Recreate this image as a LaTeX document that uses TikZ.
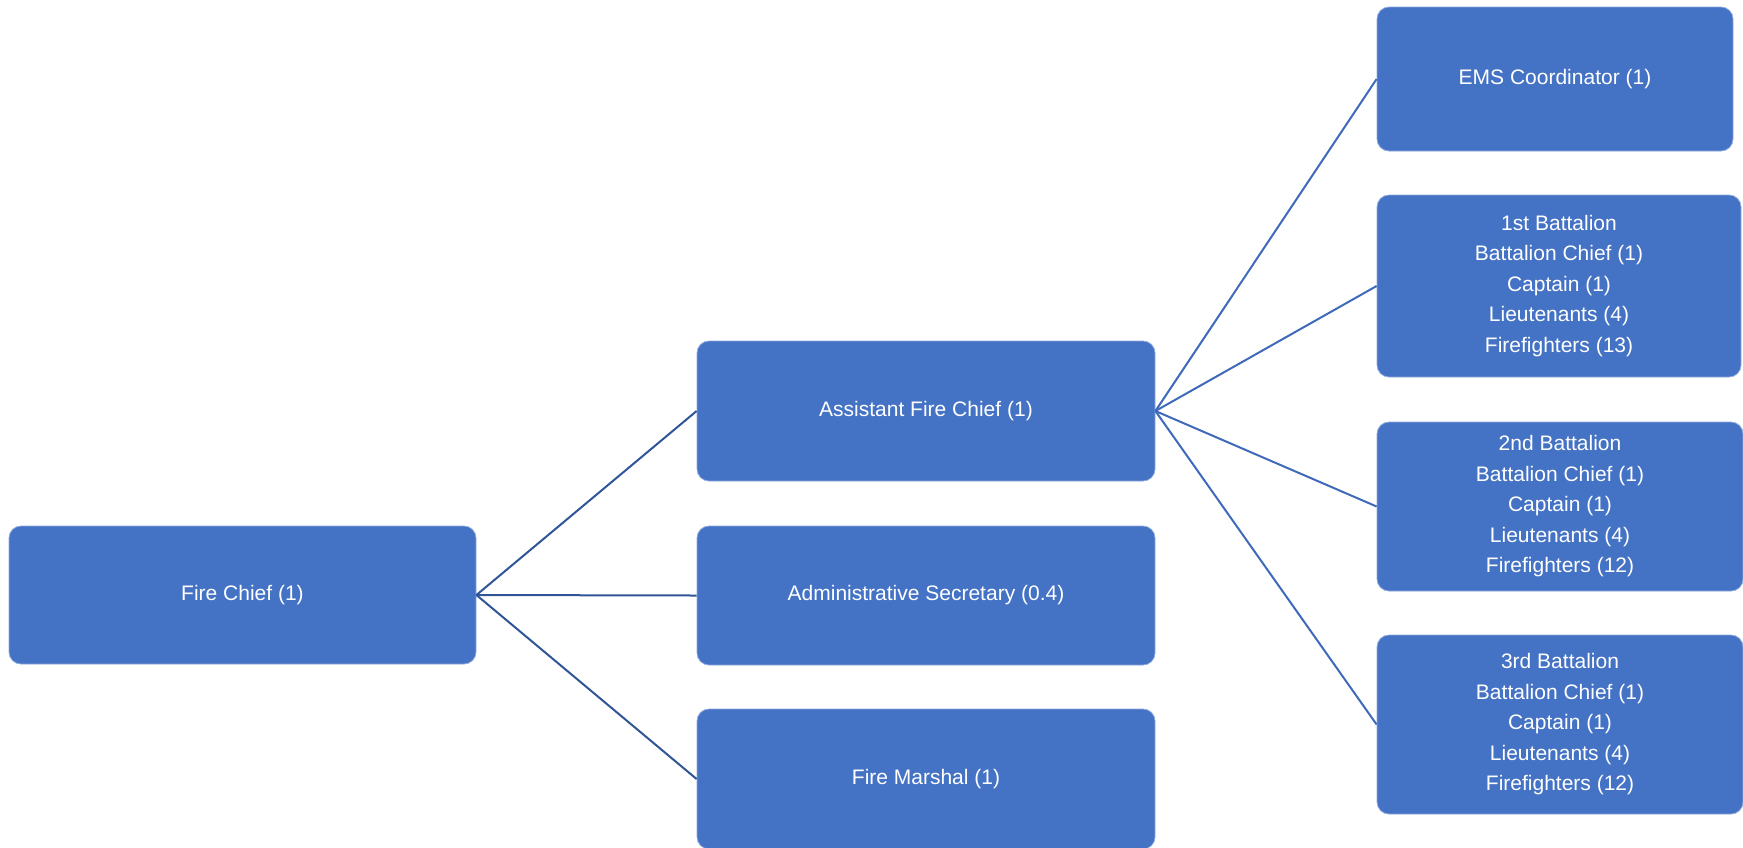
\documentclass[tikz,border=0pt]{standalone}
\usepackage{fontspec}
\setmainfont{Liberation Sans}
\usetikzlibrary{positioning, calc}

\definecolor{boxblue}{HTML}{4472C4}
\definecolor{boxedge}{HTML}{8FAADC}
\definecolor{linkdark}{HTML}{2F5597}
\definecolor{linklight}{HTML}{3F69B9}

\begin{document}
\begin{tikzpicture}[x=0.5pt, y=-0.5pt]

  % --- ESTILOS ---
  \tikzstyle{unitbox}=[rectangle, rounded corners=6pt, fill=boxblue, draw=boxedge, line width=0.4pt,
    text=white, align=center, inner sep=0pt, font=\fontsize{10.5}{15.25}\selectfont]
  \tikzstyle{link}=[line width=1pt]

  % área da figura (margens incluídas)
  \useasboundingbox (0,0) rectangle (1743,847);

  % --- CHEFE ---
  \node[unitbox, minimum width=233.5pt, minimum height=69pt] (chief) at (242.5, 595) {Fire Chief (1)};

  % --- NÍVEL 2 ---
  \node[unitbox, minimum width=229pt, minimum height=70pt] (asst) at (926, 411) {Assistant Fire Chief (1)};
  \node[unitbox, minimum width=229pt, minimum height=69.5pt] (admin) at (926, 595.5) {Administrative Secretary (0.4)};
  \node[unitbox, minimum width=229pt, minimum height=70pt] (marshal) at (926, 779) {Fire Marshal (1)};

  % --- NÍVEL 3 (subordinados do assistente) ---
  \node[unitbox, minimum width=178pt, minimum height=72pt] (ems) at (1555, 79) {EMS Coordinator (1)};
  \node[unitbox, minimum width=182pt, minimum height=91pt] (bat1) at (1559, 286)
    {1st Battalion\\Battalion Chief (1)\\Captain (1)\\Lieutenants (4)\\Firefighters (13)};
  \node[unitbox, minimum width=183pt, minimum height=84.5pt] (bat2) at (1560, 506.5)
    {2nd Battalion\\Battalion Chief (1)\\Captain (1)\\Lieutenants (4)\\Firefighters (12)};
  \node[unitbox, minimum width=183pt, minimum height=89.5pt] (bat3) at (1560, 724.5)
    {3rd Battalion\\Battalion Chief (1)\\Captain (1)\\Lieutenants (4)\\Firefighters (12)};

  % --- LIGAÇÕES ---
  \foreach \n in {asst, admin, marshal} { \draw[link, linkdark] (chief.east) -- (\n.west); }
  \foreach \n in {ems, bat1, bat2, bat3} { \draw[link, linklight] (asst.east) -- (\n.west); }

\end{tikzpicture}
\end{document}
